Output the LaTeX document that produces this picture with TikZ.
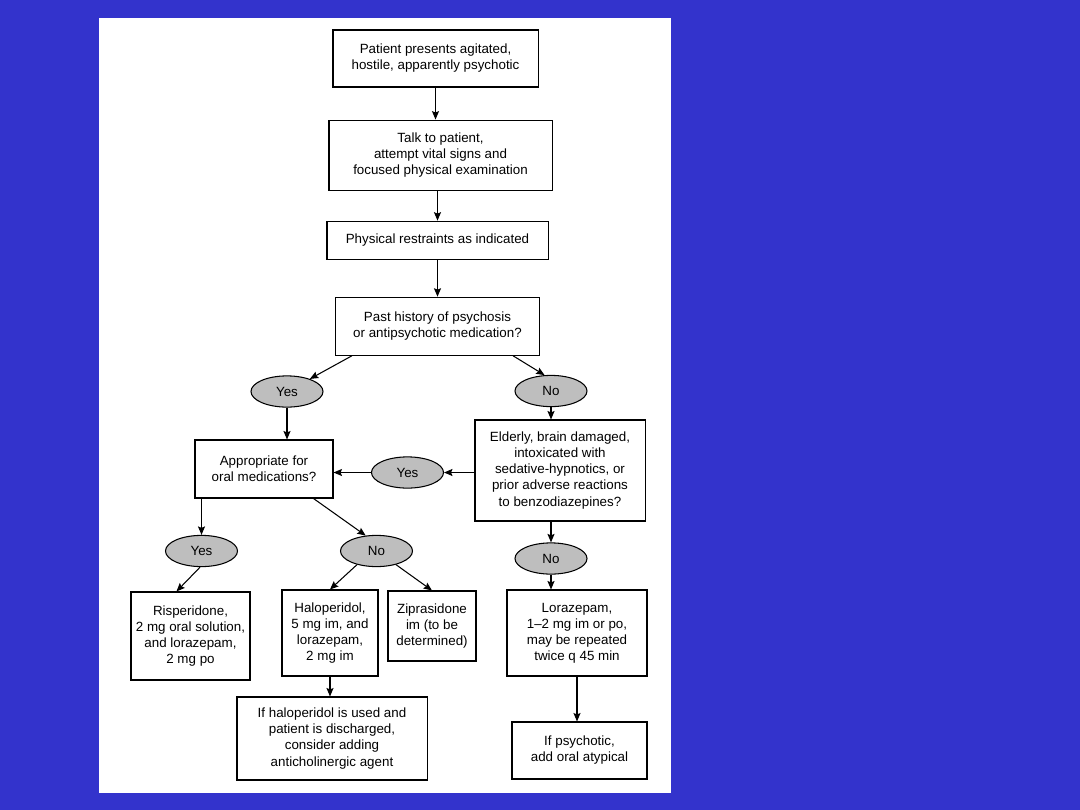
\documentclass[tikz,border=0pt]{standalone}
\usepackage{fontspec}
\setmainfont{Liberation Sans}
\usepackage{xcolor}
\usepackage{tikz}
\usetikzlibrary{shapes.geometric,arrows.meta,positioning}

\definecolor{slideblue}{RGB}{51,51,204}
\definecolor{answergray}{RGB}{190,190,190}

\begin{document}
\begin{tikzpicture}[
    x=0.025cm, y=-0.025cm,
    box/.style={rectangle, draw, fill=white, line width=0.75pt, align=center, inner sep=2pt, font=\fontsize{9.5}{11.4}\selectfont},
    answer/.style={ellipse, draw, fill=answergray, line width=0.75pt, minimum width=1.8cm, minimum height=0.78cm, inner sep=0pt, font=\fontsize{9.5}{11.4}\selectfont},
    arrow/.style={-{Stealth[length=6pt,width=5pt,inset=1pt]}, line width=0.75pt},
]
    % slide background and page
    \fill[slideblue] (0,0) rectangle (1080,810);
    \fill[white] (99,18) rectangle (671,793);
    \useasboundingbox (0,0) rectangle (1080,810);

    % main column
    \node[box, minimum width=5.125cm, minimum height=1.425cm] (present) at (435.5,58.5) {Patient presents agitated,\\hostile, apparently psychotic};
    \node[box, minimum width=5.575cm, minimum height=1.75cm, below=0.8cm of present, xshift=0.125cm] (talk) {Talk to patient,\\attempt vital signs and\\focused physical examination};
    \node[box, minimum width=5.525cm, minimum height=0.95cm, below=0.75cm of talk, xshift=-0.075cm] (restrain) {Physical restraints as indicated};
    \node[box, minimum width=5.1cm, minimum height=1.45cm, below=0.925cm of restrain] (history) {Past history of psychosis\\or antipsychotic medication?};

    % first answers
    \node[answer] (histyes) at (287,391.5) {Yes};
    \node[answer] (histno) at (551,391) {No};
    \node[box, minimum width=3.45cm, minimum height=1.45cm] (oral) at (264,469) {Appropriate for\\oral medications?};
    \node[box, minimum width=4.25cm, minimum height=2.525cm] (elderly) at (560,470.5) {Elderly, brain damaged,\\intoxicated with\\sedative-hypnotics, or\\prior adverse reactions\\to benzodiazepines?};
    \node[answer] (eldyes) at (407.5,472.5) {Yes};

    % second answers
    \node[answer] (oralyes) at (201.5,551) {Yes};
    \node[answer] (oralno) at (376.5,551) {No};
    \node[answer] (eldno) at (551,558.5) {No};

    % treatments
    \node[box, minimum width=2.975cm, minimum height=2.2cm] (risp) at (190.5,636) {Risperidone,\\2 mg oral solution,\\and lorazepam,\\2 mg po};
    \node[box, minimum width=2.4cm, minimum height=2.15cm] (halo) at (330,633) {Haloperidol,\\5 mg im, and\\lorazepam,\\2 mg im};
    \node[box, minimum width=2.2cm, minimum height=1.75cm] (zipra) at (432,626) {Ziprasidone\\im (to be\\determined)};
    \node[box, minimum width=3.5cm, minimum height=2.15cm] (loraz) at (577,633) {Lorazepam,\\1\textendash2 mg im or po,\\may be repeated\\twice q 45 min};
    \node[box, minimum width=4.75cm, minimum height=2.075cm] (anticho) at (332,738.5) {If haloperidol is used and\\patient is discharged,\\consider adding\\anticholinergic agent};
    \node[box, minimum width=3.375cm, minimum height=1.425cm] (atyp) at (579.5,750.5) {If psychotic,\\add oral atypical};

    % connectors
    \draw[arrow] (present.south) -- (present.south |- talk.north);
    \draw[arrow] (restrain.north |- talk.south) -- (restrain.north);
    \draw[arrow] (restrain.south) -- (restrain.south |- history.north);
    \draw[arrow] ([xshift=0.425cm]history.south west) -- (histyes);
    \draw[arrow] ([xshift=-0.675cm]history.south east) -- (histno.112);
    \draw[arrow] (histyes.south) -- (histyes.south |- oral.north);
    \draw[arrow] (histno.south) -- (histno.south |- elderly.north);
    \draw[arrow] (elderly.west |- eldyes) -- (eldyes.east);
    \draw[arrow] (eldyes.west) -- (eldyes.west -| oral.east);
    \draw[arrow] (oralyes.north |- oral.south) -- (oralyes.north);
    \draw[arrow] ([xshift=-0.5cm]oral.south east) -- (oralno.125);
    \draw[arrow] (oralyes.265) -- ([xshift=1.15cm]risp.north west);
    \draw[arrow] (oralno.215) -- (halo.north);
    \draw[arrow] (oralno.-35) -- (zipra.north);
    \draw[arrow] (halo.south) -- (halo.south |- anticho.north);
    \draw[arrow] (eldno.north |- elderly.south) -- (eldno.north);
    \draw[arrow] (eldno.south) -- (eldno.south |- loraz.north);
    \draw[arrow] (loraz.south) -- (loraz.south |- atyp.north);
\end{tikzpicture}
\end{document}
